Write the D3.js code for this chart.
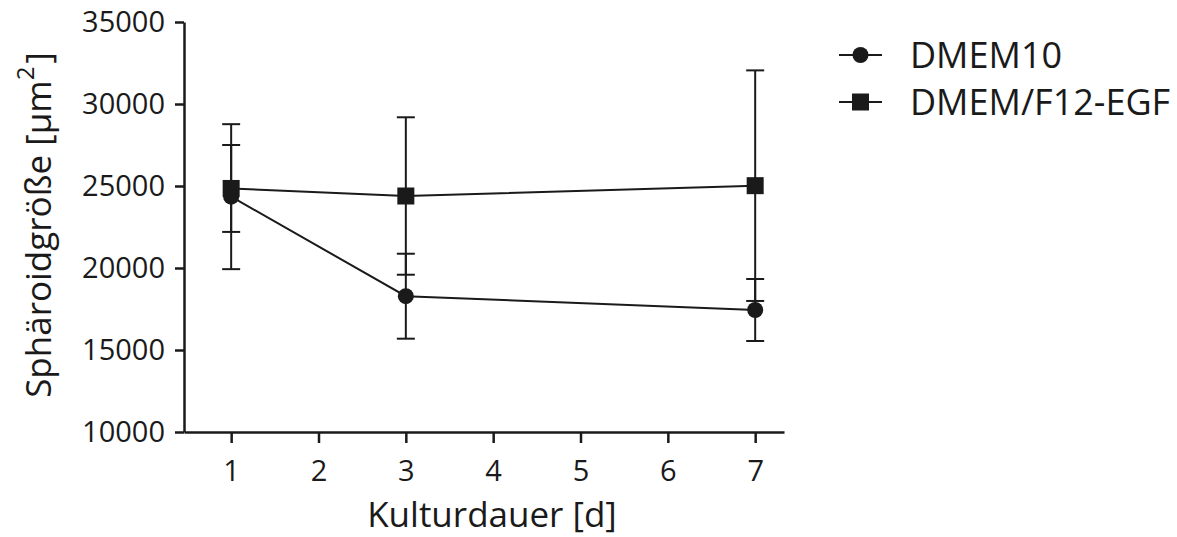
<!DOCTYPE html>
<html>
<head>
<meta charset="utf-8">
<script src="https://cdn.jsdelivr.net/npm/d3@7"></script>
<style>
	body { margin: 0; background: #fff; }
	text { font-family: 'Open Sans', sans-serif; fill: #1a1a1a; }
	.axis path, .axis line { stroke: #1a1a1a; stroke-width: 2.5; }
	.axis text { font-size: 29px; }
</style>
</head>
<body>
<script>

var days = [1, 3, 7]
var xTicks = [1, 2, 3, 4, 5, 6, 7]
var yTicks = [10000, 15000, 20000, 25000, 30000, 35000]

var dmem10Mean = [24350, 18280, 17440]
var dmem10Err = [4420, 2590, 1890]
var f12Mean = [24850, 24390, 25020]
var f12Err = [2650, 4800, 7030]

var seriesNames = ['DMEM10', 'DMEM/F12-EGF']

var series = [
	{ name : seriesNames[0], shape : 'circle', mean : dmem10Mean, err : dmem10Err },
	{ name : seriesNames[1], shape : 'square', mean : f12Mean, err : f12Err }
]

var width = 1177
var height = 537

var svg = d3.select('body')
	.append('svg')
	.attr('width', width)
	.attr('height', height)

var xScale = d3.scaleLinear()
	.domain([0.46, 7.33])
	.range([184, 784])

var yScale = d3.scaleLinear()
	.domain([10000, 35000])
	.range([432, 22])

svg.append('g')
	.attr('class', 'axis axis--x')
	.attr('transform', `translate(0, ${yScale(10000)})`)
	.call(d3.axisBottom(xScale).tickValues(xTicks).tickSize(11).tickSizeOuter(0).tickPadding(17).tickFormat(d3.format('d')))

svg.append('g')
	.attr('class', 'axis axis--y')
	.attr('transform', `translate(${xScale.range()[0]}, 0)`)
	.call(d3.axisLeft(yScale).tickValues(yTicks).tickSize(9).tickSizeOuter(0).tickPadding(10).tickFormat(d3.format('d')))

// axis titles
svg.append('text')
	.attr('x', 492)
	.attr('y', 527)
	.attr('text-anchor', 'middle')
	.style('font-size', '35px')
	.text('Kulturdauer [d]')

var yTitle = svg.append('text')
	.attr('transform', 'translate(51, 225) rotate(-90)')
	.attr('text-anchor', 'middle')
	.style('font-size', '35px')
yTitle.append('tspan').text('Sphäroidgröße [µm')
yTitle.append('tspan').attr('baseline-shift', '70%').style('font-size', '24px').text('2')
yTitle.append('tspan').attr('dx', 3).text(']')

var line = d3.line()
	.x( (d, i) => xScale(days[i]) )
	.y( d => yScale(d) )

function drawMarker(g, shape, x, y) {
	if (shape === 'circle')
		g.append('circle').attr('cx', x).attr('cy', y).attr('r', 8).attr('fill', '#1a1a1a')
	else
		g.append('rect').attr('x', x - 8.5).attr('y', y - 8.5).attr('width', 17).attr('height', 17).attr('fill', '#1a1a1a')
}

var plot = svg.append('g')

series.forEach(s => {
	var g = plot.append('g')

	s.mean.forEach((m, i) => {
		var x = xScale(days[i])
		var top = yScale(m + s.err[i])
		var bot = yScale(m - s.err[i])
		g.append('line').attr('x1', x).attr('x2', x).attr('y1', top).attr('y2', bot)
			.attr('stroke', '#1a1a1a').attr('stroke-width', 2)
		g.append('line').attr('x1', x - 9).attr('x2', x + 9).attr('y1', top).attr('y2', top)
			.attr('stroke', '#1a1a1a').attr('stroke-width', 2)
		g.append('line').attr('x1', x - 9).attr('x2', x + 9).attr('y1', bot).attr('y2', bot)
			.attr('stroke', '#1a1a1a').attr('stroke-width', 2)
	})

	g.append('path')
		.datum(s.mean)
		.attr('d', line)
		.attr('fill', 'none')
		.attr('stroke', '#1a1a1a')
		.attr('stroke-width', 2)

	s.mean.forEach((m, i) => drawMarker(g, s.shape, xScale(days[i]), yScale(m)))
})

// legend
var legend = svg.append('g')
	.attr('transform', 'translate(839, 55)')

series.forEach((s, i) => {
	var row = legend.append('g').attr('transform', `translate(0, ${i * 47})`)
	row.append('line').attr('x1', 0).attr('x2', 43).attr('y1', 0).attr('y2', 0)
		.attr('stroke', '#1a1a1a').attr('stroke-width', 2)
	drawMarker(row, s.shape, 21.5, 0)
	row.append('text')
		.attr('x', 71)
		.attr('y', 0)
		.attr('dy', '0.36em')
		.style('font-size', '36px')
		.text(s.name)
})

</script>
</body>
</html>
